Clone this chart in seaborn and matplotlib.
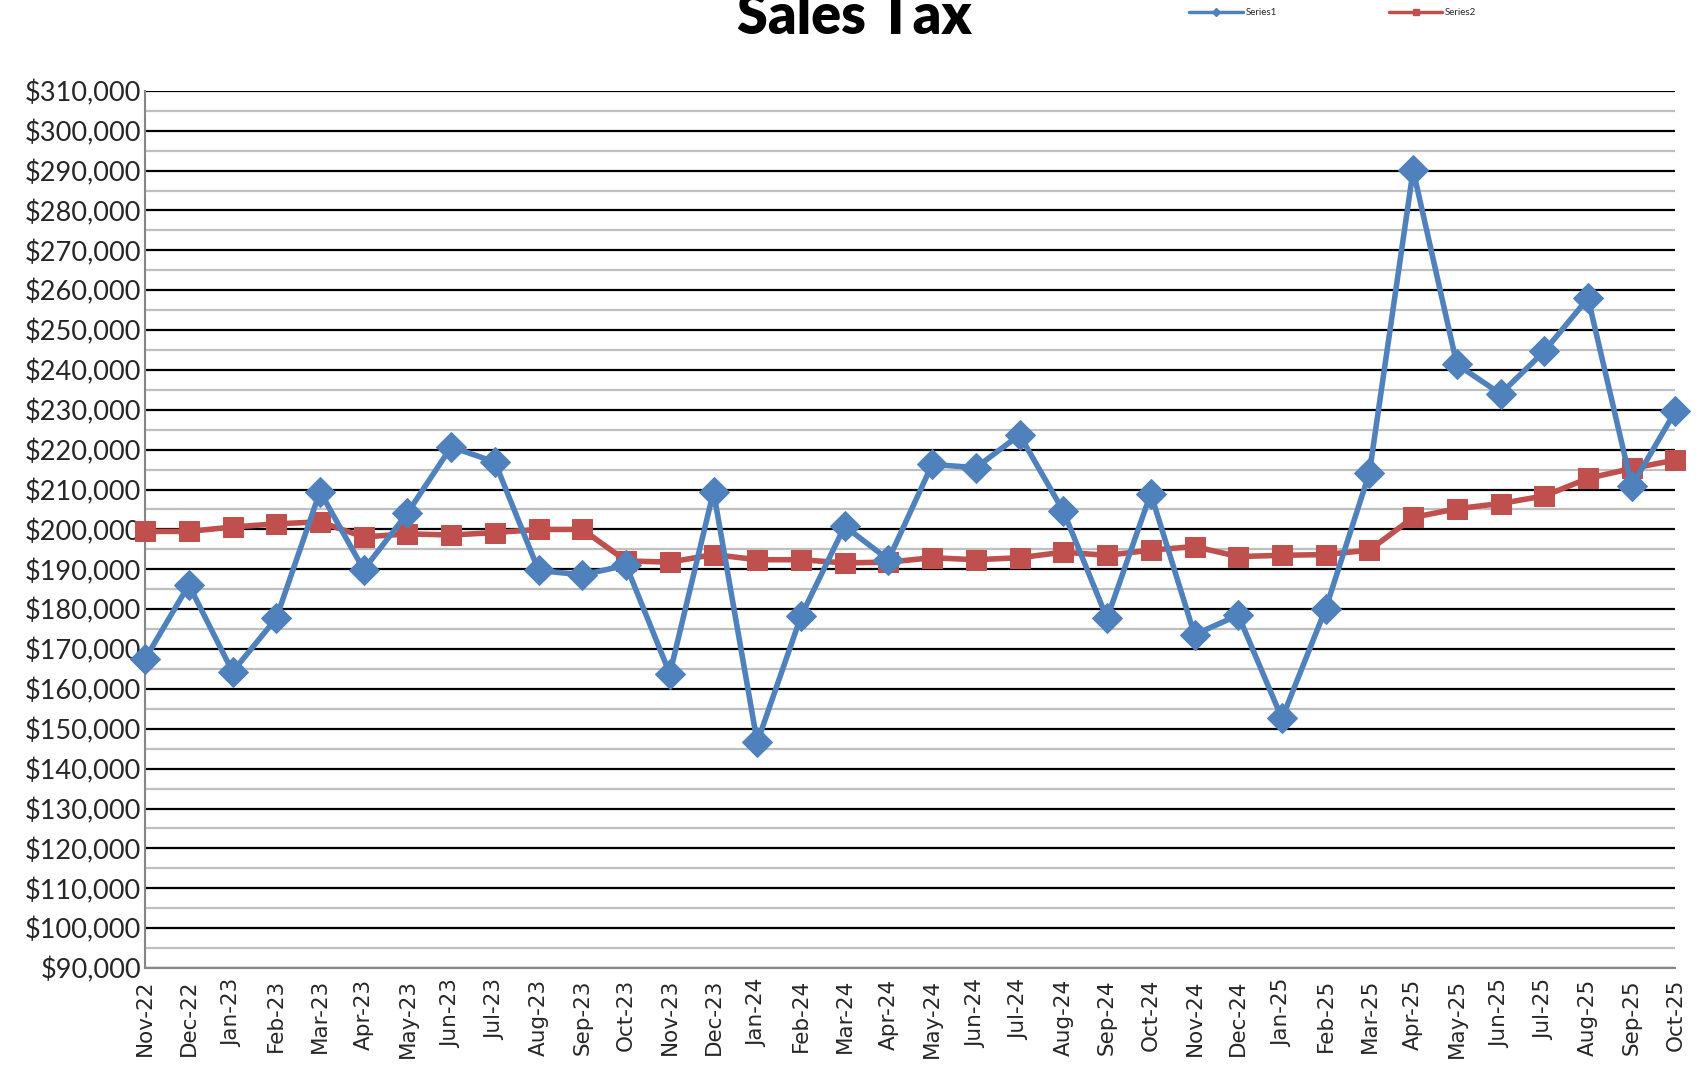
import matplotlib
matplotlib.use("Agg")
import matplotlib.pyplot as plt
import matplotlib.ticker as mticker
from matplotlib.lines import Line2D
import pandas as pd
import seaborn as sns

months = [
    "Nov-22", "Dec-22", "Jan-23", "Feb-23", "Mar-23", "Apr-23", "May-23",
    "Jun-23", "Jul-23", "Aug-23", "Sep-23", "Oct-23", "Nov-23", "Dec-23",
    "Jan-24", "Feb-24", "Mar-24", "Apr-24", "May-24", "Jun-24", "Jul-24",
    "Aug-24", "Sep-24", "Oct-24", "Nov-24", "Dec-24", "Jan-25", "Feb-25",
    "Mar-25", "Apr-25", "May-25", "Jun-25", "Jul-25", "Aug-25", "Sep-25",
    "Oct-25",
]

series1 = [
    167500, 186100, 164300, 177700, 209500, 189900, 204100, 220700, 216900,
    189700, 188600, 191000, 163800, 209500, 146600, 178200, 200800, 192400,
    216300, 215500, 223700, 204600, 177700, 209000, 173600, 178500, 152600,
    180100, 214200, 290100, 241400, 234000, 244700, 258000, 210900, 229700,
]

series2 = [
    199500, 199500, 200600, 201400, 201900, 198100, 198900, 198600, 199200,
    200000, 200000, 192100, 191800, 193700, 192400, 192400, 191600, 191800,
    192900, 192400, 192900, 194300, 193500, 194800, 195700, 193200, 193500,
    193700, 194800, 203000, 205200, 206500, 208400, 212800, 215300, 217400,
]

blue = "#4F81BD"
red = "#C0504D"

df = pd.DataFrame({"pos": range(len(months)), "s1": series1, "s2": series2})

sns.set_style("white")
plt.rcParams["font.family"] = ["DejaVu Sans"]

fig = plt.figure(figsize=(17.01, 10.69), dpi=100)
ax = fig.add_axes([0.0853, 0.0945, 0.8997, 0.8205])

sns.lineplot(
    data=df, x="pos", y="s1", ax=ax, color=blue, linewidth=4,
    marker="D", markersize=15, markeredgecolor=blue, clip_on=False, zorder=4
)
sns.lineplot(
    data=df, x="pos", y="s2", ax=ax, color=red, linewidth=4,
    marker="s", markersize=14, markeredgecolor=red, clip_on=False, zorder=3
)

ax.set_xlim(0, len(months) - 1)
ax.set_ylim(90000, 310000)
ax.set_xlabel("")
ax.set_ylabel("")

ax.yaxis.set_major_locator(mticker.MultipleLocator(10000))
ax.yaxis.set_minor_locator(mticker.MultipleLocator(5000))
ax.yaxis.set_major_formatter(mticker.StrMethodFormatter("${x:,.0f}"))
ax.grid(which="major", axis="y", color="black", linewidth=1.6, zorder=1)
ax.grid(which="minor", axis="y", color="#BFBFBF", linewidth=1.6, zorder=1)
ax.set_axisbelow(True)

ax.set_xticks(range(len(months)))
ax.set_xticklabels(months, rotation=90, fontsize=15.5, family="DejaVu Sans")
ax.tick_params(axis="x", direction="out", length=7, width=1.3, color="#868686", pad=1)
ax.tick_params(axis="y", which="both", length=0, pad=3)
for lab in ax.get_yticklabels():
    lab.set_family(["Lato", "DejaVu Sans"])
    lab.set_fontsize(19.5)

for side in ["top", "right"]:
    ax.spines[side].set_visible(False)
ax.spines["left"].set_color("#868686")
ax.spines["left"].set_linewidth(1.5)
ax.spines["bottom"].set_color("#868686")
ax.spines["bottom"].set_linewidth(1.5)

fig.text(0.502, 0.968, "Sales Tax", ha="center", va="baseline",
         fontsize=40, fontweight="heavy", color="black",
         family=["Lato", "DejaVu Sans"])

handles = [
    Line2D([], [], color=blue, linewidth=2.5, marker="D", markersize=4),
    Line2D([], [], color=red, linewidth=2.5, marker="s", markersize=4),
]
fig.legend(handles, ["Series1", "Series2"], loc="center left",
           bbox_to_anchor=(0.694, 0.988), ncol=2, frameon=False,
           prop={"family": ["Lato", "DejaVu Sans"], "size": 7},
           handlelength=5.5, handletextpad=0.3, columnspacing=11.5)

fig.savefig("out.png", dpi=100)
